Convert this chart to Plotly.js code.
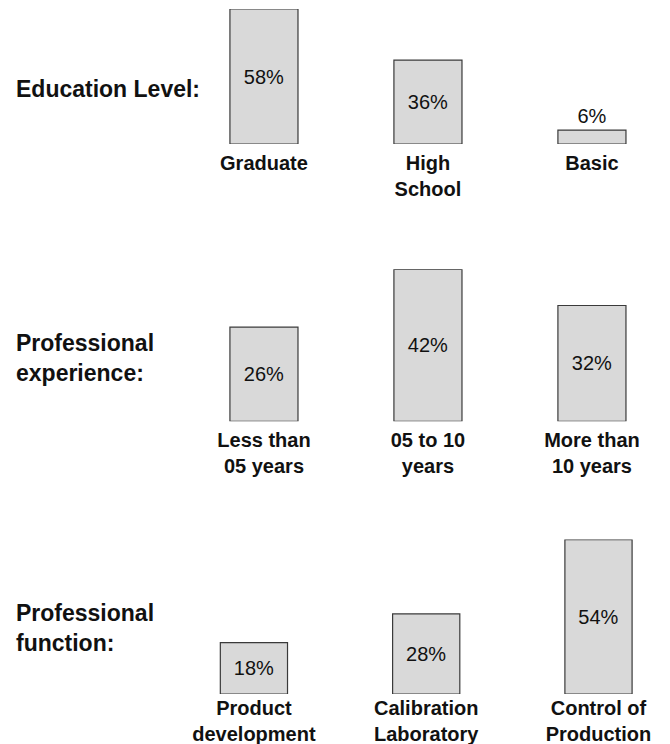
<!DOCTYPE html>
<html>
<head>
<meta charset="utf-8">
<script src="https://cdn.plot.ly/plotly-3.0.1.min.js"></script>
<style>html,body{margin:0;padding:0;background:#fff;}#chart{width:670px;height:744px;}</style>
</head>
<body>
<div id="chart"></div>
<script>
// ---- data ----
const eduCategories = ['Graduate', 'High<br>School', 'Basic'];
const eduValues = [58, 36, 6];

const expCategories = ['Less than<br>05 years', '05 to 10<br>years', 'More than<br>10 years'];
const expValues = [26, 42, 32];

const funcCategories = ['Product<br>development', 'Calibration<br>Laboratory', 'Control of<br>Production'];
const funcValues = [18, 28, 54];

const panelTitles = ['Education Level:', 'Professional<br>experience:', 'Professional<br>function:'];

// ---- styling ----
const FONT = 'Liberation Sans, Arial, Helvetica, sans-serif';
const H = 744;
const fy = px => 1 - px / H;

function barTrace(cats, vals, ax, w) {
  return {
    type: 'bar',
    x: cats,
    y: vals,
    xaxis: 'x' + ax,
    yaxis: 'y' + ax,
    width: w,
    text: vals.map(v => v + '%'),
    textposition: 'auto',
    insidetextanchor: 'middle',
    textangle: 0,
    constraintext: 'none',
    cliponaxis: false,
    textfont: {family: FONT, size: 20, color: '#111'},
    insidetextfont: {family: FONT, size: 20, color: '#111'},
    outsidetextfont: {family: FONT, size: 20, color: '#111'},
    marker: {color: '#d9d9d9', line: {color: '#3a3a3a', width: 1.2}},
    hoverinfo: 'skip',
    showlegend: false
  };
}

const data = [
  barTrace(eduCategories, eduValues, '', 0.415),
  barTrace(expCategories, expValues, '2', 0.415),
  barTrace(funcCategories, funcValues, '3', 0.39)
];

function xAx(range, anchor, standoff) {
  return {
    domain: [200 / 670, 660 / 670],
    range: range,
    type: 'category',
    anchor: anchor,
    showgrid: false, zeroline: false, showline: false, ticks: '',
    ticklabelstandoff: standoff,
    tickfont: {family: FONT, size: 20, color: '#111', weight: 'bold'},
    fixedrange: true
  };
}
function yAx(domain, range, anchor) {
  return {
    domain: domain, range: range, anchor: anchor,
    visible: false, showgrid: false, zeroline: false, fixedrange: true
  };
}

const annFont = {family: FONT, size: 23, color: '#111', weight: 'bold'};
const layout = {
  width: 670, height: 744,
  margin: {l: 0, r: 0, t: 0, b: 0},
  paper_bgcolor: '#fff', plot_bgcolor: '#fff',
  bargap: 0,
  xaxis: xAx([-0.39, 2.415], 'y', 5),
  yaxis: yAx([fy(144), fy(9)], [0, 58], 'x'),
  xaxis2: xAx([-0.39, 2.415], 'y2', 5),
  yaxis2: yAx([fy(421.3), fy(269.3)], [0, 42], 'x2'),
  xaxis3: xAx([-0.313, 2.357], 'y3', 0),
  yaxis3: yAx([fy(694), fy(539.6)], [0, 54], 'x3'),
  annotations: [
    {text: panelTitles[0], xref: 'paper', yref: 'paper', x: 14 / 670, y: fy(89), xanchor: 'left', yanchor: 'middle', align: 'left', showarrow: false, font: annFont},
    {text: panelTitles[1], xref: 'paper', yref: 'paper', x: 14 / 670, y: fy(358), xanchor: 'left', yanchor: 'middle', align: 'left', showarrow: false, font: annFont},
    {text: panelTitles[2], xref: 'paper', yref: 'paper', x: 14 / 670, y: fy(628), xanchor: 'left', yanchor: 'middle', align: 'left', showarrow: false, font: annFont}
  ]
};

Plotly.newPlot('chart', data, layout, {staticPlot: true, displayModeBar: false});
</script>
</body>
</html>
